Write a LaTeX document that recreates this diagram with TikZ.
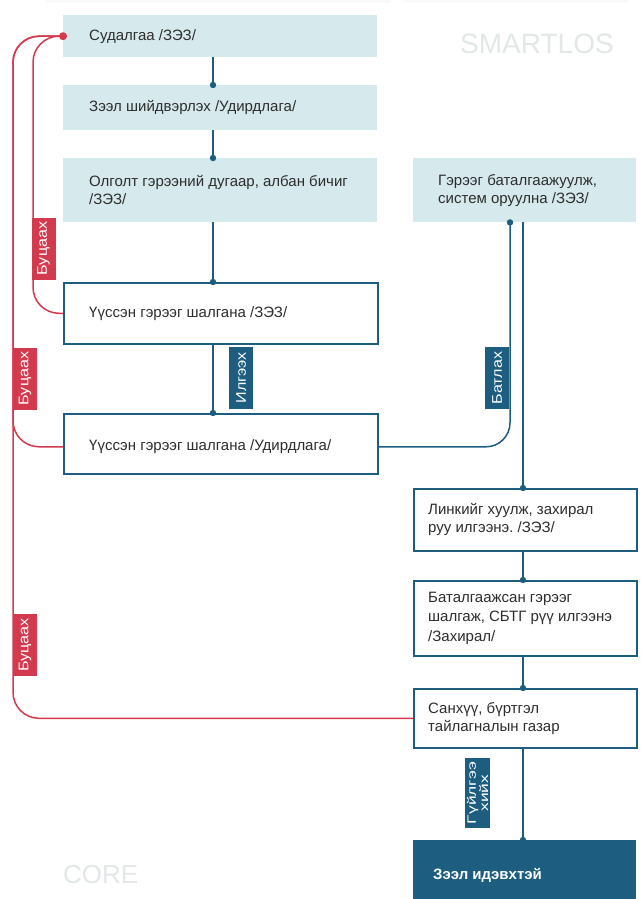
\documentclass[tikz,border=0pt]{standalone}
\usepackage{graphicx}
\usepackage{fontspec}
\setmainfont{Liberation Sans}
\frenchspacing
\newcommand{\lblwide}[1]{\scalebox{1.15}[1]{#1}}
\newcommand{\lblxwide}[1]{\scalebox{1.45}[1]{#1}}
\definecolor{boxfill}{RGB}{214,234,238}
\definecolor{bluec}{RGB}{28,93,128}
\definecolor{redc}{RGB}{212,58,78}
\definecolor{txt}{RGB}{45,45,45}
\definecolor{ghost}{RGB}{226,231,232}
\begin{document}
\begin{tikzpicture}[x=1pt,y=-1pt,
  lbox/.style={rectangle, anchor=north west, fill=boxfill, inner sep=0pt, minimum width=314pt},
  rbox/.style={lbox, minimum width=223pt},
  wbox/.style={rectangle, anchor=north west, draw=bluec, line width=1.6pt, fill=white,
    inner sep=0pt, minimum width=314pt},
  wrbox/.style={wbox, minimum width=223pt},
  btext/.style={anchor=west, inner sep=0pt, align=left, text=txt,
    font=\fontsize{15}{18}\selectfont},
  conn/.style={draw=bluec, line width=1.5pt},
  back/.style={draw=redc, line width=1.5pt, rounded corners=26pt},
  dotc/.style={fill=bluec},
  blab/.style={rectangle, fill=bluec, text=white, rotate=90, minimum width=62pt,
    minimum height=24pt, inner sep=0pt, font=\fontsize{14}{14}\selectfont},
  rlab/.style={blab, fill=redc},
  ghosttext/.style={anchor=base west, inner sep=0pt, text=ghost}]
\useasboundingbox (0,0) rectangle (640,899);
\clip (0,0) rectangle (640,899);
\fill[gray!5] (45,0) rectangle (390,3);
\fill[gray!5] (403,0) rectangle (628,3);

\node[ghosttext, font=\fontsize{28}{28}\selectfont] (sm) at (460,53) {SMARTLOS};
\node[ghosttext, font=\fontsize{26}{26}\selectfont] (core) at (63,883) {CORE};

% left column
\node[lbox, minimum height=42pt] (b1) at (63,15) {};
\node[btext] (t1) at ([xshift=26pt]b1.west) {Судалгаа /ЗЭЗ/};
\node[lbox, minimum height=45pt] (b2) at (63,85) {};
\node[btext] (t2) at ([xshift=26pt]b2.west) {Зээл шийдвэрлэх /Удирдлага/};
\node[lbox, minimum height=64pt] (b3) at (63,158) {};
\node[btext] (t3) at ([xshift=26pt]b3.west) {Олголт гэрээний дугаар, албан бичиг\\/ЗЭЗ/};
\node[wbox, minimum height=61pt] (b5) at (63,282) {};
\node[btext] (t5) at ([xshift=26pt]b5.west) {Үүссэн гэрээг шалгана /ЗЭЗ/};
\node[wbox, minimum height=60pt] (b6) at (63,413) {};
\node[btext] (t6) at ([xshift=26pt,yshift=-3pt]b6.west) {Үүссэн гэрээг шалгана /Удирдлага/};

% right column
\node[rbox, minimum height=64pt] (b4) at (413,158) {};
\node[btext] (t4) at ([xshift=25pt]b4.west) {Гэрээг баталгаажуулж,\\систем оруулна /ЗЭЗ/};
\node[wrbox, minimum height=62pt] (b7) at (413,488) {};
\node[btext] (t7) at ([xshift=15pt]b7.west) {Линкийг хуулж, захирал\\руу илгээнэ. /ЗЭЗ/};
\node[wrbox, minimum height=75pt] (b8) at (413,580) {};
\node[btext, font=\fontsize{15}{19.5}\selectfont] (t8) at ([xshift=15pt]b8.west) {Баталгаажсан гэрээг\\шалгаж, СБТГ рүү илгээнэ\\/Захирал/};
\node[wrbox, minimum height=59pt] (b9) at (413,688) {};
\node[btext] (t9) at ([xshift=15pt]b9.west) {Санхүү, бүртгэл\\тайлагналын газар};
\node[rbox, fill=bluec, minimum height=70pt] (b10) at (413,840) {};
\node[btext, text=white, font=\bfseries\fontsize{15}{18}\selectfont] (t10) at ([xshift=20pt]b10.west) {Зээл идэвхтэй};

\coordinate (mx) at (213,0);
\coordinate (rx) at (523,0);
\coordinate (ax) at (510,0);
\coordinate (inL) at (33,0);
\coordinate (outL) at (13,0);

% blue connectors
\draw[conn] (b1.south -| mx) -- (b2.north -| mx);
\draw[conn] (b2.south -| mx) -- (b3.north -| mx);
\draw[conn] (b3.south -| mx) -- (b5.north -| mx);
\draw[conn] (b5.south -| mx) -- (b6.north -| mx);
\draw[conn, rounded corners=24pt] ([yshift=-3pt]b6.east) -| (b4.south -| ax);
\draw[conn] (b4.south -| rx) -- (b7.north -| rx);
\draw[conn] (b7.south -| rx) -- (b8.north -| rx);
\draw[conn] (b8.south -| rx) -- (b9.north -| rx);
\draw[conn] (b9.south -| rx) -- (b10.north -| rx);
\foreach \p in {b2.north -| mx, b3.north -| mx, b5.north -| mx, b6.north -| mx,
  b4.south -| ax, b7.north -| rx, b8.north -| rx, b9.north -| rx, b10.north -| rx}
  \fill[dotc] (\p) circle (3.2pt);

% red return connectors
\draw[back] (b5.west) -| (b1.west -| inL) -- (b1.west);
\draw[back] ([yshift=-3pt]b6.west) -| (b1.west -| outL) -- (b1.west);
\draw[back] (b9.west) -| (b1.west -| outL) -- (b1.west);
\fill[redc] (b1.west) circle (4pt);

% labels
\node[rlab] (r1) at (43.5,248.5) {\lblwide{Буцаах}};
\node[rlab] (r2) at (25,378.5) {\lblwide{Буцаах}};
\node[rlab] (r3) at (25,645) {\lblwide{Буцаах}};
\node[blab] (g1) at (241,378) {\lblwide{Илгээх}};
\node[blab] (g2) at (497,378) {\lblwide{Батлах}};
\node[blab, minimum width=70pt, minimum height=25pt, align=center,
  font=\fontsize{12}{11}\selectfont] (g3) at (477.5,793) {\lblxwide{Гүйлгээ}\\\lblxwide{хийх}};
\end{tikzpicture}
\end{document}
